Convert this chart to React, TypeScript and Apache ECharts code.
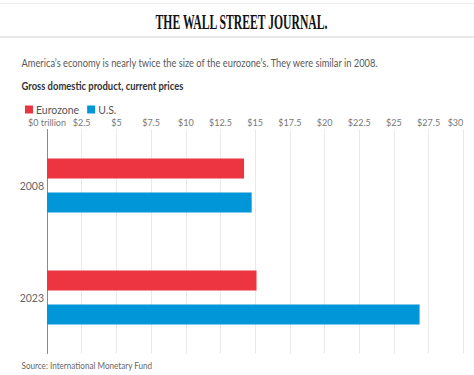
import React, { useEffect, useRef } from "react";
import * as echarts from "echarts";

const categories = ["2008", "2023"];
const seriesNames = ["Eurozone", "U.S."];
const eurozone = [14.2, 15.1];
const us = [14.75, 26.85];
const tickLabels = ["$0 trillion", "$2.5", "$5", "$7.5", "$10", "$12.5", "$15", "$17.5", "$20", "$22.5", "$25", "$27.5", "$30"];

const W = 474;
const H = 375;

function fitScale(text: string, font: string, target: number): number {
  try {
    const c = document.createElement("canvas").getContext("2d");
    if (!c) return 1;
    c.font = font;
    const w = c.measureText(text).width;
    return w > 0 ? target / w : 1;
  } catch (e) {
    return 1;
  }
}

export default function App() {
  const ref = useRef<HTMLDivElement>(null);
  useEffect(() => {
    if (!ref.current) return;
    const chart = echarts.init(ref.current, undefined, { renderer: "svg", width: W, height: H });
    const headText = "THE WALL STREET JOURNAL.";
    const headFont = 'bold 20px "Liberation Serif"';
    const headScale = fitScale(headText, headFont, 173);
    const subText = "America\u2019s economy is nearly twice the size of the eurozone\u2019s. They were similar in 2008.";
    const subFont = '10.5px Lato';
    const subScale = fitScale(subText, subFont, 358);
    const boldText = "Gross domestic product, current prices";
    const boldFont = 'bold 10.5px Lato';
    const boldScale = fitScale(boldText, boldFont, 162);
    const srcText = "Source: International Monetary Fund";
    const srcFont = '9.5px Lato';
    const srcScale = fitScale(srcText, srcFont, 131);

    chart.setOption({
      animation: false,
      backgroundColor: "#ffffff",
      graphic: [
        { type: "line", shape: { x1: 0, y1: 3.5, x2: W, y2: 3.5 }, style: { stroke: "#eeeeee", lineWidth: 1 } },
        { type: "line", shape: { x1: 0, y1: 37, x2: W, y2: 37 }, style: { stroke: "#e2e2e2", lineWidth: 1.5 } },
        {
          type: "text", x: 241.5, y: 22, scaleX: headScale, scaleY: 1,
          style: { text: headText, font: headFont, fill: "#111111", align: "center", verticalAlign: "middle" },
        },
        {
          type: "text", x: 21.5, y: 63, scaleX: subScale, scaleY: 1,
          style: { text: subText, font: subFont, fill: "#5a5a5a", align: "left", verticalAlign: "middle" },
        },
        {
          type: "text", x: 21.5, y: 86, scaleX: boldScale, scaleY: 1,
          style: { text: boldText, font: boldFont, fill: "#333333", align: "left", verticalAlign: "middle" },
        },
        {
          type: "text", x: 21.5, y: 365, scaleX: srcScale, scaleY: 1,
          style: { text: srcText, font: srcFont, fill: "#666666", align: "left", verticalAlign: "middle" },
        },
      ],
      legend: {
        left: 20,
        top: 99,
        icon: "rect",
        itemWidth: 8,
        itemHeight: 8,
        itemGap: 8,
        textStyle: { fontFamily: "Lato", fontSize: 10.5, color: "#555555", padding: [0, 0, 0, -2] },
        data: seriesNames,
      },
      grid: { left: 47, right: 10.7, top: 129.5, bottom: 21.5, containLabel: false, outerBoundsMode: "none" },
      xAxis: {
        type: "value",
        position: "top",
        min: 0,
        max: 30,
        interval: 2.5,
        axisLine: { show: false },
        axisTick: { show: false },
        splitLine: { show: true, lineStyle: { color: "#e9e9e9", width: 1 } },
        axisLabel: {
          margin: 3,
          fontFamily: "Lato",
          fontSize: 9,
          color: "#777777",
          alignMaxLabel: "right",
          formatter: (v: number) => tickLabels[Math.round(v / 2.5)] ?? "",
        },
      },
      yAxis: {
        type: "category",
        inverse: true,
        data: categories,
        axisLine: { show: true, lineStyle: { color: "#8a8a8a", width: 1 } },
        axisTick: { show: false },
        axisLabel: { margin: 3, fontFamily: "Lato", fontSize: 10.5, color: "#666666" },
      },
      series: [
        {
          name: seriesNames[0],
          type: "bar",
          data: eurozone,
          barWidth: 20,
          barGap: "70%",
          itemStyle: { color: "#EC3541" },
        },
        {
          name: seriesNames[1],
          type: "bar",
          data: us,
          barWidth: 20,
          barGap: "70%",
          itemStyle: { color: "#0096D8" },
        },
      ],
    });
    return () => chart.dispose();
  }, []);
  return <div ref={ref} style={{ width: W, height: H, position: "absolute", left: 0, top: 0 }} />;
}
